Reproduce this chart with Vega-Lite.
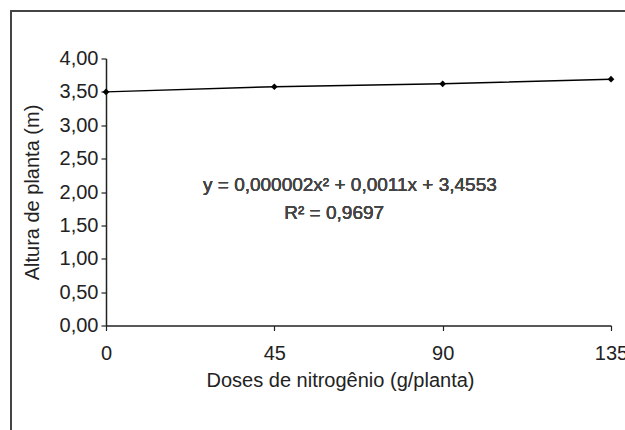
{
  "$schema": "https://vega.github.io/schema/vega-lite/v6.json",
  "autosize": "none",
  "width": 505,
  "height": 267,
  "padding": {"left": 106, "top": 58.5, "right": 14, "bottom": 104.5},
  "background": "white",
  "config": {
    "view": {"stroke": null},
    "locale": {"number": {"decimal": ",", "thousands": ".", "grouping": [3], "currency": ["R$", ""]}},
    "font": "Liberation Sans",
    "axis": {"labelFont": "Liberation Sans", "titleFont": "Liberation Sans", "titleFontWeight": "normal", "labelColor": "#222", "titleColor": "#222", "domainColor": "#222", "tickColor": "#222", "grid": false, "domainWidth": 1.5, "tickWidth": 1.2, "tickSize": 5, "labelFontSize": 20, "titleFontSize": 20, "labelOverlap": false},
    "axisX": {"labelPadding": 13, "labelDx": -7, "titleX": 234, "titleY": 61, "titleBaseline": "alphabetic", "labelFlush": false},
    "axisY": {"labelPadding": 3, "titlePadding": 17}
  },
  "data": {"values": [
    {"dose": 0, "altura": 3.50},
    {"dose": 45, "altura": 3.577},
    {"dose": 90, "altura": 3.62},
    {"dose": 135, "altura": 3.69}
  ]},
  "layer": [
    {
      "mark": {"type": "line", "color": "black", "strokeWidth": 1.5, "point": {"shape": "diamond", "size": 45, "filled": true, "color": "black"}},
      "encoding": {
        "x": {"field": "dose", "type": "quantitative", "scale": {"domain": [0, 135], "nice": false, "zero": false},
          "axis": {"values": [0, 45, 90, 135], "title": "Doses de nitrogênio (g/planta)"}},
        "y": {"field": "altura", "type": "quantitative", "scale": {"domain": [0, 4], "nice": false},
          "axis": {"values": [0, 0.5, 1, 1.5, 2, 2.5, 3, 3.5, 4], "format": ".2f", "title": "Altura de planta (m)"}}
      }
    },
    {
      "mark": {"type": "rect", "fill": null, "stroke": "#444", "strokeWidth": 1.5},
      "encoding": {
        "x": {"datum": -25.4, "type": "quantitative", "axis": {"values": [0, 45, 90, 135]}},
        "x2": {"datum": 200},
        "y": {"datum": 4.71, "type": "quantitative", "axis": {"values": [0, 0.5, 1, 1.5, 2, 2.5, 3, 3.5, 4], "format": ".2f"}},
        "y2": {"datum": -3}
      }
    },
    {
      "mark": {"type": "text", "fontSize": 19, "fontWeight": "normal", "font": "Liberation Sans", "color": "#444", "align": "center", "baseline": "middle"},
      "encoding": {
        "x": {"datum": 65.2, "type": "quantitative", "axis": {"values": [0, 45, 90, 135]}},
        "y": {"datum": 2.105, "type": "quantitative", "axis": {"values": [0, 0.5, 1, 1.5, 2, 2.5, 3, 3.5, 4], "format": ".2f"}},
        "text": {"value": "y = 0,000002x² + 0,0011x + 3,4553"}
      }
    },
    {
      "mark": {"type": "text", "fontSize": 19, "fontWeight": "normal", "font": "Liberation Sans", "color": "#444", "align": "center", "baseline": "middle"},
      "encoding": {
        "x": {"datum": 61, "type": "quantitative", "axis": {"values": [0, 45, 90, 135]}},
        "y": {"datum": 1.685, "type": "quantitative", "axis": {"values": [0, 0.5, 1, 1.5, 2, 2.5, 3, 3.5, 4], "format": ".2f"}},
        "text": {"value": "R² = 0,9697"}
      }
    }
  ]
}
